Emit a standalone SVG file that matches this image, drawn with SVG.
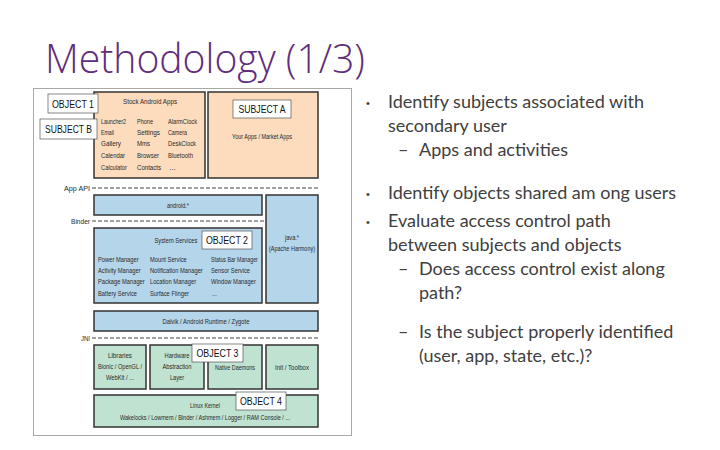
<svg xmlns="http://www.w3.org/2000/svg" width="720" height="450" viewBox="0 0 720 450">
<style>
  .title{font-family:"Open Sans",Lato,"Liberation Sans",sans-serif;font-weight:300;font-size:40px;fill:#5f2d7c}
  .bul{font-family:Lato,"Open Sans","Liberation Sans",sans-serif;font-size:18px;fill:#404040}
  .dot{font-family:"Liberation Sans",Arial,sans-serif;font-size:11px;fill:#404040}
  .frame{fill:#fff;stroke:#a8a8a8;stroke-width:1}
  .org{fill:#fcdcbd;stroke:#333;stroke-width:1.5}
  .blu{fill:#b5d5eb;stroke:#333;stroke-width:1.5}
  .grn{fill:#c0e2d0;stroke:#333;stroke-width:1.5}
  .lbl{fill:#fff;stroke:#555;stroke-width:0.7}
  .t{font-family:"Liberation Sans",Arial,sans-serif;font-size:8px;fill:#2a2a2a}
  .c{text-anchor:middle}
  .o{font-family:"Liberation Sans",Arial,sans-serif;font-size:10.5px;fill:#111;text-anchor:middle}
  .dash{stroke:#444;stroke-width:1.2;stroke-dasharray:4 2;fill:none}
</style>
<rect width="720" height="450" fill="#fff"/>
<text class="title" x="45" y="73" textLength="320" lengthAdjust="spacingAndGlyphs">Methodology (1/3)</text>

<rect class="frame" x="33.5" y="88.5" width="318" height="347"/>

<g id="layer-lines">
  <line class="dash" x1="92" y1="188" x2="318" y2="188"/>
  <text class="t" x="90" y="191" text-anchor="end" textLength="26" lengthAdjust="spacingAndGlyphs">App API</text>
  <line class="dash" x1="92" y1="221" x2="318" y2="221"/>
  <text class="t" x="90" y="224" text-anchor="end" textLength="19" lengthAdjust="spacingAndGlyphs">Binder</text>
  <line class="dash" x1="92" y1="338" x2="318" y2="338"/>
  <text class="t" x="90" y="341" text-anchor="end" textLength="9" lengthAdjust="spacingAndGlyphs">JNI</text>
</g>

<g id="stock-apps">
  <rect class="org" x="94" y="92" width="111" height="86"/>
  <text class="t c" x="150" y="104" textLength="54" lengthAdjust="spacingAndGlyphs">Stock Android Apps</text>
  <text class="t" x="101" y="124" textLength="25" lengthAdjust="spacingAndGlyphs">Launcher2</text>
  <text class="t" x="101" y="135" textLength="13" lengthAdjust="spacingAndGlyphs">Email</text>
  <text class="t" x="101" y="146" textLength="20" lengthAdjust="spacingAndGlyphs">Gallery</text>
  <text class="t" x="101" y="158" textLength="24" lengthAdjust="spacingAndGlyphs">Calendar</text>
  <text class="t" x="101" y="170" textLength="26" lengthAdjust="spacingAndGlyphs">Calculator</text>
  <text class="t" x="137" y="124" textLength="16" lengthAdjust="spacingAndGlyphs">Phone</text>
  <text class="t" x="137" y="135" textLength="23" lengthAdjust="spacingAndGlyphs">Settings</text>
  <text class="t" x="137" y="146" textLength="13" lengthAdjust="spacingAndGlyphs">Mms</text>
  <text class="t" x="137" y="158" textLength="22" lengthAdjust="spacingAndGlyphs">Browser</text>
  <text class="t" x="137" y="170" textLength="24" lengthAdjust="spacingAndGlyphs">Contacts</text>
  <text class="t" x="168" y="124" textLength="29" lengthAdjust="spacingAndGlyphs">AlarmClock</text>
  <text class="t" x="168" y="135" textLength="19" lengthAdjust="spacingAndGlyphs">Camera</text>
  <text class="t" x="168" y="146" textLength="28" lengthAdjust="spacingAndGlyphs">DeskClock</text>
  <text class="t" x="168" y="158" textLength="25" lengthAdjust="spacingAndGlyphs">Bluetooth</text>
  <text class="t" x="169" y="170">...</text>
</g>

<g id="your-apps">
  <rect class="org" x="208" y="92" width="110" height="86"/>
  <text class="t c" x="262" y="139" textLength="60" lengthAdjust="spacingAndGlyphs">Your Apps / Market Apps</text>
</g>

<g id="android-fw">
  <rect class="blu" x="94" y="195" width="168" height="20"/>
  <text class="t c" x="178" y="208" textLength="22" lengthAdjust="spacingAndGlyphs">android.*</text>
</g>

<g id="java">
  <rect class="blu" x="266" y="195" width="52" height="108"/>
  <text class="t c" x="292" y="240" textLength="14" lengthAdjust="spacingAndGlyphs">java.*</text>
  <text class="t c" x="292" y="251" textLength="46" lengthAdjust="spacingAndGlyphs">(Apache Harmony)</text>
</g>

<g id="system-services">
  <rect class="blu" x="94" y="228" width="168" height="75"/>
  <g transform="scale(0.72 1)">
    <text class="t c" x="244.4" y="243">System Services</text>
    <text class="t" x="136.1" y="262">Power Manager</text>
    <text class="t" x="136.1" y="273">Activity Manager</text>
    <text class="t" x="136.1" y="284">Package Manager</text>
    <text class="t" x="136.1" y="296">Battery Service</text>
    <text class="t" x="208.3" y="262">Mount Service</text>
    <text class="t" x="208.3" y="273">Notification Manager</text>
    <text class="t" x="208.3" y="284">Location Manager</text>
    <text class="t" x="208.3" y="296">Surface Flinger</text>
    <text class="t" x="293.1" y="262" textLength="65" lengthAdjust="spacingAndGlyphs">Status Bar Manager</text>
    <text class="t" x="293.1" y="273">Sensor Service</text>
    <text class="t" x="293.1" y="284">Window Manager</text>
    <text class="t" x="294.4" y="296">...</text>
  </g>
</g>

<g id="dalvik">
  <rect class="blu" x="94" y="311" width="224" height="20"/>
  <text class="t c" x="206" y="324" textLength="87" lengthAdjust="spacingAndGlyphs">Dalvik / Android Runtime / Zygote</text>
</g>

<g id="libraries">
  <rect class="grn" x="94" y="345" width="52" height="44"/>
  <text class="t c" x="120" y="358" textLength="24" lengthAdjust="spacingAndGlyphs">Libraries</text>
  <text class="t c" x="120" y="369" textLength="44" lengthAdjust="spacingAndGlyphs">Bionic / OpenGL /</text>
  <text class="t c" x="120" y="380" textLength="28" lengthAdjust="spacingAndGlyphs">WebKit / ...</text>
</g>

<g id="hal">
  <rect class="grn" x="150" y="345" width="54" height="44"/>
  <text class="t c" x="177" y="358" textLength="25" lengthAdjust="spacingAndGlyphs">Hardware</text>
  <text class="t c" x="177" y="369" textLength="29" lengthAdjust="spacingAndGlyphs">Abstraction</text>
  <text class="t c" x="177" y="380" textLength="14" lengthAdjust="spacingAndGlyphs">Layer</text>
</g>

<g id="native-daemons">
  <rect class="grn" x="208" y="345" width="54" height="44"/>
  <text class="t c" x="235" y="370" textLength="40" lengthAdjust="spacingAndGlyphs">Native Daemons</text>
</g>

<g id="init-toolbox">
  <rect class="grn" x="266" y="345" width="52" height="44"/>
  <text class="t c" x="292" y="370" textLength="34" lengthAdjust="spacingAndGlyphs">Init / Toolbox</text>
</g>

<g id="linux-kernel">
  <rect class="grn" x="94" y="395" width="224" height="32"/>
  <text class="t c" x="205" y="408" textLength="30" lengthAdjust="spacingAndGlyphs">Linux Kernel</text>
  <text class="t c" x="205" y="420" textLength="170" lengthAdjust="spacingAndGlyphs">Wakelocks / Lowmem / Binder / Ashmem / Logger / RAM Console / ...</text>
</g>

<g id="object-1">
  <rect class="lbl" x="48" y="94" width="50" height="19"/>
  <text class="o" x="73" y="107.5" textLength="42" lengthAdjust="spacingAndGlyphs">OBJECT 1</text>
</g>
<g id="subject-b">
  <rect class="lbl" x="40" y="119" width="57" height="20"/>
  <text class="o" x="68.5" y="133" textLength="47" lengthAdjust="spacingAndGlyphs">SUBJECT B</text>
</g>
<g id="subject-a">
  <rect class="lbl" x="233" y="100" width="58" height="18"/>
  <text class="o" x="262" y="113" textLength="47" lengthAdjust="spacingAndGlyphs">SUBJECT A</text>
</g>
<g id="object-2">
  <rect class="lbl" x="202" y="231" width="50" height="18"/>
  <text class="o" x="227" y="244" textLength="42" lengthAdjust="spacingAndGlyphs">OBJECT 2</text>
</g>
<g id="object-3">
  <rect class="lbl" x="192" y="344" width="51" height="18"/>
  <text class="o" x="217.5" y="357" textLength="42" lengthAdjust="spacingAndGlyphs">OBJECT 3</text>
</g>
<g id="object-4">
  <rect class="lbl" x="236" y="392" width="50" height="18"/>
  <text class="o" x="261" y="405" textLength="42" lengthAdjust="spacingAndGlyphs">OBJECT 4</text>
</g>

<g id="bullets">
  <text class="dot" x="366" y="107">•</text>
  <text class="bul" x="388" y="108">Identify subjects associated with</text>
  <text class="bul" x="388" y="132">secondary user</text>
  <text class="bul" x="398" y="156">–</text>
  <text class="bul" x="419" y="156">Apps and activities</text>
  <text class="dot" x="366" y="198">•</text>
  <text class="bul" x="388" y="199">Identify objects shared am ong users</text>
  <text class="dot" x="366" y="226">•</text>
  <text class="bul" x="388" y="227">Evaluate access control path</text>
  <text class="bul" x="388" y="251">between subjects and objects</text>
  <text class="bul" x="398" y="275">–</text>
  <text class="bul" x="419" y="275">Does access control exist along</text>
  <text class="bul" x="419" y="299">path?</text>
  <text class="bul" x="398" y="338">–</text>
  <text class="bul" x="419" y="338">Is the subject properly identified</text>
  <text class="bul" x="419" y="362">(user, app, state, etc.)?</text>
</g>
</svg>
